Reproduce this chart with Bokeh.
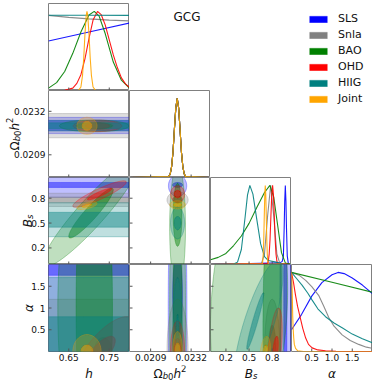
import numpy as np
from bokeh.plotting import figure
from bokeh.models import (Range1d, FixedTicker, LinearAxis, Label, Legend, LegendItem,
                          GridBox, ColumnDataSource)
from bokeh.embed import file_html
from bokeh.resources import INLINE
from bokeh.core.properties import value

# ---------------- data ----------------
datasets = ["SLS", "Snla", "BAO", "OHD", "HIIG", "Joint"]
colors = ["#0000ff", "#808080", "#008000", "#ff0000", "#008080", "#ffa500"]
title_text = "GCG"

h_range = (0.6, 0.8)
omega_range = (0.0197, 0.0243)
bs_range = (0.0, 1.05)
alpha_range = (0.0, 2.0)
pdf_range = (0.0, 1.1)

h_ticks = [0.65, 0.75]
h_tick_labels = ["0.65", "0.75"]
omega_ticks = [0.0209, 0.0232]
omega_tick_labels = ["0.0209", "0.0232"]
bs_ticks = [0.2, 0.5, 0.8]
bs_tick_labels = ["0.2", "0.5", "0.8"]
alpha_ticks = [0.5, 1.0, 1.5]
alpha_x_tick_labels = ["0.5", "1.0", "1.5"]
alpha_y_tick_labels = ["0.5", "1", "1.5"]

# 1D marginals : h
h_sls_x = [0.60, 0.70, 0.80]
h_sls_y = [0.625, 0.74, 0.854]
h_snla_x = [0.60, 0.65, 0.70, 0.75, 0.80]
h_snla_y = [0.95, 0.925, 0.905, 0.89, 0.88]
h_bao_x = [0.60, 0.62, 0.64, 0.66, 0.68, 0.70, 0.713, 0.725, 0.74, 0.76, 0.78, 0.80]
h_bao_y = [0.03, 0.10, 0.24, 0.47, 0.74, 0.955, 1.0, 0.94, 0.72, 0.36, 0.13, 0.03]
h_ohd_x = [0.60, 0.64, 0.66, 0.67, 0.68, 0.69, 0.70, 0.71, 0.721, 0.73, 0.74, 0.75,
           0.76, 0.77, 0.78, 0.79, 0.80]
h_ohd_y = [0.0, 0.003, 0.03, 0.09, 0.2, 0.40, 0.66, 0.89, 1.0, 0.96, 0.83, 0.64,
           0.45, 0.29, 0.16, 0.084, 0.04]
h_hiig_x = [0.60, 0.70, 0.80]
h_hiig_y = [0.952, 0.952, 0.95]
h_joint_x = [0.60, 0.674, 0.680, 0.684, 0.687, 0.690, 0.693, 0.695, 0.697, 0.700,
             0.703, 0.706, 0.710, 0.716, 0.80]
h_joint_y = [0.0, 0.002, 0.044, 0.19, 0.41, 0.71, 0.946, 1.0, 0.946, 0.71,
             0.41, 0.19, 0.044, 0.002, 0.0]

# 1D marginals : Omega_b0 h^2 (same prior for every data set)
omega_x = [0.0197, 0.02193, 0.02201, 0.02209, 0.02217, 0.02225, 0.02233, 0.02241,
           0.02249, 0.02257, 0.02265, 0.02273, 0.02281, 0.02289, 0.0243]
omega_y = [0.0, 0.011, 0.044, 0.135, 0.32, 0.61, 0.88, 1.0,
           0.88, 0.61, 0.32, 0.135, 0.044, 0.011, 0.0]

# 1D marginals : B_s
bs_sls_x = [0.0, 0.90, 0.93, 0.945, 0.955, 0.962, 0.97, 0.978, 0.985, 0.995, 1.01, 1.05]
bs_sls_y = [0.0, 0.02, 0.04, 0.11, 0.46, 0.80, 1.0, 0.80, 0.46, 0.11, 0.004, 0.0]
bs_snla_x = [0.0, 0.66, 0.70, 0.74, 0.78, 0.82, 0.86, 0.90, 1.05]
bs_snla_y = [0.0, 0.011, 0.135, 0.61, 1.0, 0.61, 0.135, 0.011, 0.0]
bs_bao_x = [0.0, 0.1, 0.2, 0.3, 0.4, 0.5, 0.6, 0.7, 0.77, 0.82, 0.87, 0.92, 0.97, 1.05]
bs_bao_y = [0.06, 0.09, 0.14, 0.24, 0.36, 0.52, 0.72, 0.91, 1.0, 0.85, 0.5, 0.15, 0.02, 0.0]
bs_ohd_x = [0.0, 0.739, 0.750, 0.761, 0.772, 0.783, 0.794, 0.805, 0.816, 0.827, 0.838,
            0.849, 0.860, 0.871, 1.05]
bs_ohd_y = [0.0, 0.011, 0.044, 0.135, 0.32, 0.61, 0.88, 1.0, 0.88, 0.61, 0.32,
            0.135, 0.044, 0.011, 0.0]
bs_hiig_x = [0.0, 0.30, 0.35, 0.40, 0.45, 0.48, 0.51, 0.55, 0.60, 0.65, 0.70, 0.75,
             0.85, 0.95, 1.05]
bs_hiig_y = [0.0, 0.005, 0.03, 0.19, 0.61, 0.88, 1.0, 0.89, 0.57, 0.26, 0.10, 0.05,
             0.03, 0.0, 0.0]
bs_joint_x = [0.0, 0.67, 0.6775, 0.684, 0.6905, 0.697, 0.7035, 0.71, 0.7165, 0.723,
              0.7295, 0.736, 0.7425, 0.75, 1.05]
bs_joint_y = [0.0, 0.009, 0.044, 0.135, 0.32, 0.61, 0.88, 1.0, 0.88, 0.61,
              0.32, 0.135, 0.044, 0.009, 0.0]

# 1D marginals : alpha
al_sls_x = [0.0, 0.25, 0.5, 0.75, 1.0, 1.15, 1.3, 1.5, 1.75, 2.0]
al_sls_y = [0.275, 0.47, 0.70, 0.87, 0.97, 1.0, 0.985, 0.93, 0.84, 0.73]
al_snla_x = [0.0, 0.2, 0.35, 0.5, 0.67, 0.8, 0.92, 1.05, 1.25, 1.45, 1.66, 1.85, 2.0]
al_snla_y = [1.0, 0.96, 0.9, 0.82, 0.71, 0.57, 0.43, 0.32, 0.21, 0.14, 0.09, 0.055, 0.04]
al_bao_x = [0.0, 1.0, 2.0]
al_bao_y = [1.0, 0.875, 0.75]
al_ohd_x = [0.0, 0.05, 0.1, 0.15, 0.22, 0.28, 0.35, 0.42, 0.51, 0.65, 0.84, 1.1, 1.5, 2.0]
al_ohd_y = [1.0, 0.87, 0.71, 0.57, 0.42, 0.29, 0.17, 0.09, 0.046, 0.02, 0.01, 0.004, 0.0, 0.0]
al_hiig_x = [0.0, 0.13, 0.26, 0.4, 0.51, 0.65, 0.84, 1.05, 1.25, 1.5, 1.75, 2.0]
al_hiig_y = [1.0, 0.92, 0.84, 0.74, 0.65, 0.54, 0.44, 0.36, 0.30, 0.22, 0.16, 0.11]
al_joint_x = [0.0, 0.01, 0.02, 0.03, 0.04, 0.055, 0.07, 0.1, 0.15, 0.3, 2.0]
al_joint_y = [1.0, 0.9, 0.7, 0.45, 0.3, 0.17, 0.09, 0.04, 0.01, 0.0, 0.0]

# 2D credible regions:
# (data set, sigma level, centre x, centre y, half-extent x, half-extent y, correlation)
h_omega_contours = [
    ("SLS", 2, 0.80, 0.02245, 3.0, 0.00043, 0.0),
    ("SLS", 1, 0.80, 0.02245, 3.0, 0.00026, 0.0),
    ("Snla", 2, 0.70, 0.02244, 3.0, 0.00064, 0.0),
    ("Snla", 1, 0.735, 0.02244, 0.025, 0.00022, 0.0),
    ("BAO", 2, 0.713, 0.02243, 0.086, 0.00031, 0.0),
    ("BAO", 1, 0.713, 0.02243, 0.045, 0.00017, 0.0),
    ("OHD", 2, 0.721, 0.02243, 0.06, 0.0003, 0.0),
    ("OHD", 1, 0.721, 0.02243, 0.03, 0.00015, 0.0),
    ("HIIG", 2, 0.70, 0.02244, 3.0, 0.00028, 0.0),
    ("HIIG", 1, 0.70, 0.02244, 3.0, 0.00015, 0.0),
    ("Joint", 2, 0.695, 0.02243, 0.025, 0.00045, 0.0),
    ("Joint", 1, 0.695, 0.02243, 0.012, 0.00024, 0.0),
]
h_bs_contours = [
    ("SLS", 2, 0.8, 0.96, 3.0, 0.15, 0.0),
    ("SLS", 1, 0.8, 0.96, 3.0, 0.03, 0.0),
    ("Snla", 2, 0.7, 0.78, 3.0, 0.08, 0.0),
    ("Snla", 1, 0.7, 0.78, 3.0, 0.035, 0.0),
    ("BAO", 2, 0.705, 0.62, 0.12, 0.65, 0.93),
    ("BAO", 1, 0.705, 0.62, 0.055, 0.3, 0.93),
    ("OHD", 2, 0.726, 0.85, 0.066, 0.16, 0.9),
    ("OHD", 1, 0.726, 0.85, 0.03, 0.07, 0.9),
    ("HIIG", 2, 0.7, 0.54, 3.0, 0.205, 0.0),
    ("HIIG", 1, 0.7, 0.54, 3.0, 0.09, 0.0),
    ("Joint", 2, 0.695, 0.71, 0.025, 0.048, 0.6),
    ("Joint", 1, 0.695, 0.71, 0.012, 0.024, 0.6),
]
h_alpha_contours = [
    ("SLS", 2, 0.8, 1.0, 3.0, 4.0, 0.0),
    ("SLS", 1, 0.8, 2.3, 3.0, 0.55, 0.0),
    ("Snla", 2, 0.7, 0.0, 3.0, 1.2, 0.0),
    ("Snla", 1, 0.735, 0.0, 0.022, 0.32, 0.0),
    ("BAO", 2, 0.713, 1.0, 0.09, 4.0, 0.0),
    ("BAO", 1, 0.713, 1.0, 0.045, 4.0, 0.0),
    ("OHD", 2, 0.74, 0.0, 0.075, 0.8, 0.7),
    ("OHD", 1, 0.73, 0.0, 0.035, 0.35, 0.7),
    ("HIIG", 2, 0.7, 0.0, 3.0, 1.7, 0.0),
    ("HIIG", 1, 0.7, 0.0, 3.0, 0.8, 0.0),
    ("Joint", 2, 0.695, 0.0, 0.035, 0.39, 0.0),
    ("Joint", 1, 0.695, 0.0, 0.015, 0.15, 0.0),
]
omega_bs_contours = [
    ("SLS", 2, 0.02243, 0.95, 0.00052, 0.13, 0.0),
    ("SLS", 1, 0.02243, 0.96, 0.00028, 0.03, 0.0),
    ("Snla", 2, 0.02243, 0.78, 0.0006, 0.1, 0.0),
    ("Snla", 1, 0.02243, 0.78, 0.0003, 0.04, 0.0),
    ("BAO", 2, 0.02243, 0.45, 0.00045, 0.75, 0.0),
    ("BAO", 1, 0.02243, 0.6, 0.00025, 0.38, 0.0),
    ("OHD", 2, 0.02243, 0.85, 0.0004, 0.1, 0.0),
    ("OHD", 1, 0.02243, 0.85, 0.0002, 0.045, 0.0),
    ("HIIG", 2, 0.02243, 0.5, 0.0004, 0.19, 0.0),
    ("HIIG", 1, 0.02243, 0.5, 0.0002, 0.08, 0.0),
    ("Joint", 2, 0.02243, 0.72, 0.00045, 0.05, 0.0),
    ("Joint", 1, 0.02243, 0.72, 0.00022, 0.02, 0.0),
]
omega_alpha_contours = [
    ("SLS", 2, 0.02243, 1.0, 0.00053, 4.0, 0.0),
    ("SLS", 1, 0.02243, 1.3, 0.00028, 0.95, 0.0),
    ("Snla", 2, 0.02243, 0.0, 0.0006, 1.2, 0.0),
    ("Snla", 1, 0.02243, 0.0, 0.0003, 0.6, 0.0),
    ("BAO", 2, 0.02243, 1.0, 0.00045, 4.0, 0.0),
    ("BAO", 1, 0.02243, 1.0, 0.00025, 4.0, 0.0),
    ("OHD", 2, 0.02243, 0.0, 0.0004, 0.7, 0.0),
    ("OHD", 1, 0.02243, 0.0, 0.0002, 0.3, 0.0),
    ("HIIG", 2, 0.02243, 0.0, 0.0003, 1.7, 0.0),
    ("HIIG", 1, 0.02243, 0.0, 0.0001, 0.85, 0.0),
    ("Joint", 2, 0.02243, 0.0, 0.00028, 0.46, 0.0),
    ("Joint", 1, 0.02243, 0.0, 0.00015, 0.2, 0.0),
]
bs_alpha_contours = [
    ("SLS", 2, 0.97, 1.0, 0.07, 4.0, 0.0),
    ("SLS", 1, 0.97, 1.0, 0.02, 4.0, 0.0),
    ("Snla", 2, 0.8, 0.0, 0.1, 1.2, 0.0),
    ("Snla", 1, 0.8, 0.0, 0.05, 0.6, 0.0),
    ("BAO", 2, 0.5, 1.0, 0.5, 3.0, 0.15),
    ("BAO", 1, 0.8, 1.0, 0.12, 3.0, 0.15),
    ("OHD", 2, 0.83, 0.0, 0.1, 1.0, 0.5),
    ("OHD", 1, 0.84, 0.0, 0.04, 0.35, 0.5),
    ("HIIG", 2, 0.62, 0.6, 0.32, 1.5, 0.78),
    ("HIIG", 1, 0.58, 0.7, 0.11, 0.65, 0.95),
    ("Joint", 2, 0.71, 0.0, 0.066, 0.35, 0.3),
    ("Joint", 1, 0.71, 0.0, 0.03, 0.15, 0.3),
]

# ---------------- layout / style ----------------
FW, FH = 81, 87       # frame size of one panel
YW = 48               # strip holding y tick labels and y titles
TOP, BOT, XH = 3, 14, 16
FONT = "DejaVu Sans"
TXT = "#111111"
COLOR = dict(zip(datasets, colors))
EM = {"Ω": 0.764, "b": 0.635, "0": 0.636, "h": 0.634, "2": 0.636,
      "B": 0.686, "s": 0.521, "α": 0.659}


def blank(fw, fh, **kw):
    p = figure(frame_width=fw, frame_height=fh, x_range=Range1d(0, 1), y_range=Range1d(0, 1),
               x_axis_location=None, y_axis_location=None, output_backend="svg",
               toolbar_location=None, min_border_left=0, min_border_right=0,
               min_border_top=kw.get("top", 0), min_border_bottom=kw.get("bottom", 0),
               outline_line_color=None)
    p.grid.visible = False
    return p


def panel(xr, yr, row):
    p = figure(frame_width=FW, frame_height=FH,
               x_range=Range1d(*xr), y_range=Range1d(*yr),
               x_axis_location=None, y_axis_location=None,
               output_backend="svg", toolbar_location=None,
               min_border_left=0, min_border_right=0,
               min_border_top=TOP if row == 0 else 0,
               min_border_bottom=BOT if row == 3 else 0)
    p.grid.visible = False
    p.outline_line_color = "#808080"
    p.outline_line_width = 1
    return p


def ticks(p, xr, yr, xt=None, yt=None):
    if xt:
        p.ray(x=xt, y=[yr[0]] * len(xt), length=3, length_units="screen", angle=np.pi / 2,
              line_color="#555555", line_width=1)
    if yt:
        p.ray(x=[xr[0]] * len(yt), y=yt, length=3, length_units="screen", angle=0,
              line_color="#555555", line_width=1)


def bottom_axis(p, tks, labels):
    ax = LinearAxis(ticker=FixedTicker(ticks=tks),
                    major_label_overrides={t: l for t, l in zip(tks, labels)})
    ax.axis_line_color = None
    ax.major_tick_in = 0
    ax.major_tick_out = 0
    ax.minor_tick_line_color = None
    ax.major_label_text_font = FONT
    ax.major_label_text_font_size = "9px"
    ax.major_label_text_color = TXT
    ax.major_label_standoff = 2
    p.add_layout(ax, "below")


def title_parts(p, parts, orient, x, y, off, rng_name):
    ws = [sum(EM.get(ch, 0.6) for ch in t) * s for t, s, it, sh in parts]
    cum = -sum(ws) / 2.0
    for (t, s, it, sh), w in zip(parts, ws):
        kw = dict(text=t, text_font=FONT, text_font_size=f"{s}px",
                  text_font_style="italic" if it else "normal", text_color=TXT,
                  text_align="left", text_baseline="alphabetic")
        if orient == "x":
            lab = Label(x=x, y=y, x_range_name=rng_name, x_offset=cum, y_offset=off + sh, **kw)
        else:
            lab = Label(x=x, y=y, y_range_name=rng_name, x_offset=off - sh, y_offset=cum,
                        angle=np.pi / 2, **kw)
        p.add_layout(lab)
        cum += w


def draw_contours(p, rows):
    xs, ys, fc, fa = [], [], [], []
    t = np.linspace(0, 2 * np.pi, 360)
    for name, level, mx, my, ax, ay, rho in rows:
        xs.append(list(mx + ax * np.cos(t)))
        ys.append(list(my + ay * (rho * np.cos(t) + np.sqrt(1 - rho ** 2) * np.sin(t))))
        fc.append(COLOR[name])
        fa.append(0.25 if level == 2 else 0.45)
    src = ColumnDataSource(dict(xs=xs, ys=ys, fc=fc, fa=fa))
    p.patches("xs", "ys", source=src, fill_color="fc", fill_alpha="fa",
              line_color="fc", line_alpha=0.45, line_width=0.7)


def draw_lines(p, curves):
    for name, (x, y) in zip(datasets, curves):
        p.line(x, y, line_color=COLOR[name], line_width=1.1, line_alpha=0.9)


PARTS_H = [("h", 12, True, 0)]
PARTS_OM = [("Ω", 12, False, 0), ("b", 8.5, True, -2.5), ("0", 8.5, False, -2.5),
            ("h", 12, True, 0), ("2", 8.5, False, 5)]
PARTS_BS = [("B", 12, True, 0), ("s", 8.5, True, -2.5)]
PARTS_AL = [("α", 12, True, 0)]

# ---- panels ----
p00 = panel(h_range, pdf_range, 0)
draw_lines(p00, [(h_sls_x, h_sls_y), (h_snla_x, h_snla_y), (h_bao_x, h_bao_y),
                 (h_ohd_x, h_ohd_y), (h_hiig_x, h_hiig_y), (h_joint_x, h_joint_y)])
ticks(p00, h_range, pdf_range, xt=h_ticks)

p10 = panel(h_range, omega_range, 1)
draw_contours(p10, h_omega_contours)
ticks(p10, h_range, omega_range, xt=h_ticks, yt=omega_ticks)

p11 = panel(omega_range, pdf_range, 1)
draw_lines(p11, [(omega_x, omega_y)] * len(datasets))
ticks(p11, omega_range, pdf_range, xt=omega_ticks)

p20 = panel(h_range, bs_range, 2)
draw_contours(p20, h_bs_contours)
ticks(p20, h_range, bs_range, xt=h_ticks, yt=bs_ticks)

p21 = panel(omega_range, bs_range, 2)
draw_contours(p21, omega_bs_contours)
ticks(p21, omega_range, bs_range, xt=omega_ticks, yt=bs_ticks)

p22 = panel(bs_range, pdf_range, 2)
draw_lines(p22, [(bs_sls_x, bs_sls_y), (bs_snla_x, bs_snla_y), (bs_bao_x, bs_bao_y),
                 (bs_ohd_x, bs_ohd_y), (bs_hiig_x, bs_hiig_y), (bs_joint_x, bs_joint_y)])
ticks(p22, bs_range, pdf_range, xt=bs_ticks)

p30 = panel(h_range, alpha_range, 3)
draw_contours(p30, h_alpha_contours)
ticks(p30, h_range, alpha_range, xt=h_ticks, yt=alpha_ticks)
bottom_axis(p30, h_ticks, h_tick_labels)

p31 = panel(omega_range, alpha_range, 3)
draw_contours(p31, omega_alpha_contours)
ticks(p31, omega_range, alpha_range, xt=omega_ticks, yt=alpha_ticks)
bottom_axis(p31, omega_ticks, omega_tick_labels)

p32 = panel(bs_range, alpha_range, 3)
draw_contours(p32, bs_alpha_contours)
ticks(p32, bs_range, alpha_range, xt=bs_ticks, yt=alpha_ticks)
bottom_axis(p32, bs_ticks, bs_tick_labels)

p33 = panel(alpha_range, pdf_range, 3)
draw_lines(p33, [(al_sls_x, al_sls_y), (al_snla_x, al_snla_y), (al_bao_x, al_bao_y),
                 (al_ohd_x, al_ohd_y), (al_hiig_x, al_hiig_y), (al_joint_x, al_joint_y)])
ticks(p33, alpha_range, pdf_range, xt=alpha_ticks)
bottom_axis(p33, alpha_ticks, alpha_x_tick_labels)


# ---- y strip: tick labels + titles for rows 1..3 ----
def row_range(r, lo, hi):
    s = (hi - lo) / FH
    return Range1d(lo - (3 - r) * FH * s, hi + r * FH * s)


def col_range(c, lo, hi):
    s = (hi - lo) / FW
    return Range1d(lo - c * FW * s, hi + (3 - c) * FW * s)


yfig = blank(YW, 4 * FH, top=TOP, bottom=BOT)
yfig.extra_y_ranges = {"om": row_range(1, *omega_range), "bs": row_range(2, *bs_range),
                       "al": row_range(3, *alpha_range)}
for name, tks, labels, rng, parts, off in [
        ("om", omega_ticks, omega_tick_labels, omega_range, PARTS_OM, -34),
        ("bs", bs_ticks, bs_tick_labels, bs_range, PARTS_BS, -21),
        ("al", alpha_ticks, alpha_y_tick_labels, alpha_range, PARTS_AL, -20)]:
    yfig.text(x=[1.0] * len(tks), y=tks, text=labels, y_range_name=name, x_offset=-3,
              text_align="right", text_baseline="middle", text_font=value(FONT),
              text_font_size="9px", text_color=TXT)
    title_parts(yfig, parts, "y", 1.0, (rng[0] + rng[1]) / 2, off, name)

# ---- x strip: titles under columns ----
xfig = blank(4 * FW, XH)
xfig.extra_x_ranges = {"c0": col_range(0, *h_range), "c1": col_range(1, *omega_range),
                       "c2": col_range(2, *bs_range), "c3": col_range(3, *alpha_range)}
for name, rng, parts in [("c0", h_range, PARTS_H), ("c1", omega_range, PARTS_OM),
                         ("c2", bs_range, PARTS_BS), ("c3", alpha_range, PARTS_AL)]:
    title_parts(xfig, parts, "x", (rng[0] + rng[1]) / 2, 0.0, 8, name)

# ---- title ----
tf = blank(FW, FH, top=TOP)
tf.add_layout(Label(x=0.71, y=0.85, text=title_text, text_align="center",
                    text_baseline="alphabetic", text_font=FONT, text_font_size="12px",
                    text_color=TXT))

# ---- legend ----
lf = blank(2 * FW, 2 * FH, top=TOP)
items = []
for name in datasets:
    r = lf.quad(left=[-2], right=[-1], top=[-1], bottom=[-2], fill_color=COLOR[name],
                line_color=COLOR[name], line_alpha=0.35)
    items.append(LegendItem(label=name, renderers=[r]))
leg = Legend(items=items, location=(97, 72), padding=0, margin=0, spacing=3,
             glyph_width=22, glyph_height=8, label_height=12, label_standoff=9,
             label_text_font=FONT, label_text_font_size="11px", label_text_color=TXT,
             label_text_baseline="middle", border_line_alpha=0, background_fill_alpha=0)
lf.add_layout(leg)

grid = GridBox(children=[
    (yfig, 0, 0, 4, 1),
    (p00, 0, 1), (tf, 0, 2), (lf, 0, 3, 2, 2),
    (p10, 1, 1), (p11, 1, 2),
    (p20, 2, 1), (p21, 2, 2), (p22, 2, 3),
    (p30, 3, 1), (p31, 3, 2), (p32, 3, 3), (p33, 3, 4),
    (xfig, 4, 1, 1, 4),
], spacing=0)

open("out.html", "w").write(file_html(grid, INLINE))
